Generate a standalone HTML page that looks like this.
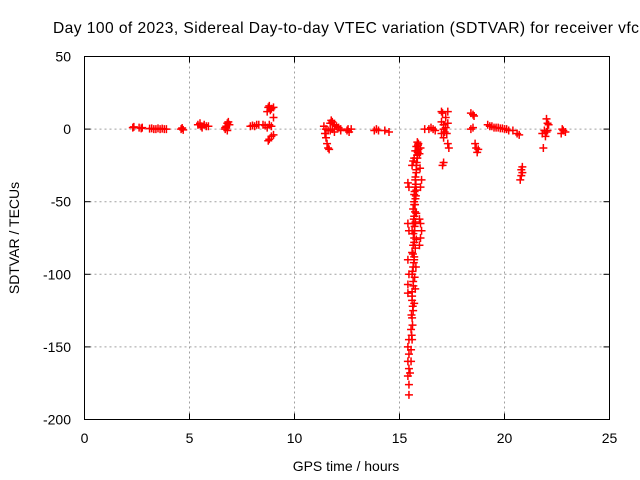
<!DOCTYPE html>
<html><head><meta charset="utf-8"><style>
body{margin:0;background:#fff}
svg{display:block;font-family:"Liberation Sans",sans-serif;font-size:14px}
</style></head><body>
<svg id="chart" width="640" height="480" viewBox="0 0 640 480">
<text x="53" y="33" fill="#000" style="font-size:15.6px" textLength="595" lengthAdjust="spacing">Day 100 of 2023, Sidereal Day-to-day VTEC variation (SDTVAR) for receiver vfch</text>
<g id="grid"></g>
<g id="ticks"></g>
<rect x="84.5" y="56.5" width="525" height="363" fill="none" stroke="#000" stroke-width="1"/>
<g id="points"></g>
<text x="346" y="471" text-anchor="middle">GPS time / hours</text>
<text transform="translate(19,238) rotate(-90)" text-anchor="middle">SDTVAR / TECUs</text>
</svg>
<script>
const xTicks=[0,5,10,15,20,25];
const yTicks=[50,0,-50,-100,-150,-200];
const times=[2.3,2.35,2.6,2.7,2.75,3.1,3.2,3.3,3.4,3.5,3.6,3.7,3.8,3.9,4.6,4.7,4.65,
5.4,5.5,5.55,5.6,5.7,5.8,5.9,6.7,6.75,6.8,6.85,6.9,6.8,6.7,7.9,8.0,8.1,8.2,8.3,8.5,8.6,
8.7,8.75,8.8,8.85,8.9,9.0,8.8,8.9,9.0,8.9,8.8,8.75,9.0,8.7,
11.4,11.5,11.45,11.6,11.55,11.6,11.65,11.7,11.75,11.8,11.9,12.0,12.1,12.2,11.5,11.7,11.8,11.9,12.2,12.5,12.6,12.7,12.55,
13.8,13.9,14.0,14.3,14.5,
15.45,15.45,15.4,15.45,15.4,15.45,15.4,15.45,15.4,15.4,15.45,15.4,15.45,15.4,15.45,15.4,
15.5,15.55,15.55,15.6,15.55,15.6,15.65,15.6,15.6,15.65,15.6,15.65,15.7,15.6,15.65,15.7,15.6,15.65,15.7,15.65,15.7,15.7,15.75,15.75,15.8,15.8,15.85,15.85,15.9,
15.7,15.75,15.72,15.78,15.7,15.75,15.8,15.72,15.76,15.8,15.74,15.78,15.8,
15.95,16.0,16.05,16.0,15.95,16.0,16.05,15.98,
15.7,15.75,15.8,15.85,15.6,15.65,15.9,15.95,16.0,
15.58,15.62,15.57,15.63,15.6,15.66,15.62,15.68,15.64,15.7,15.66,15.72,15.68,15.74,15.7,15.76,15.72,15.78,15.76,15.8,15.82,15.84,15.87,15.88,
16.2,16.5,16.6,16.7,16.4,
17.0,17.05,17.1,17.0,17.1,17.2,17.3,17.25,17.0,17.1,17.3,17.35,17.05,17.1,17.2,17.15,17.3,
18.4,18.5,18.55,18.4,18.5,18.65,18.7,18.75,18.6,
19.2,19.3,19.4,19.5,19.6,19.7,19.8,19.9,20.0,20.1,20.2,20.4,20.6,20.7,
20.75,20.8,20.85,20.8,20.85,
21.8,21.9,21.85,21.95,22.0,22.05,22.1,22.0,22.05,
22.7,22.8,22.9,22.75];
const values=[1,1.5,1,0.5,1,0.3,0.5,0,0,0.5,0,0.3,0,0,0,-0.5,0.8,
3,4,2,1,3,2,2,0,2,4,5,3,-1,1,2,2.5,2,3,3,3,2.5,
12,15,16,13,14,15,3,2,8,-5,-7,-8,-4,1,
2,0,-3,-1,-10,-13,-14,4,6,5,3,2,1,0,-6,-1,0,-2,-1,-1,-2,0,0,
-1,0,-1,-1,-2,
-183,-176,-170,-165,-160,-155,-150,-145,-113,-107,-100,-90,-70,-65,-40,-37,
-168,-160,-152,-145,-138,-130,-125,-118,-112,-105,-100,-95,-90,-85,-80,-75,-70,-65,-60,-55,-50,-45,-40,-35,-30,-25,-20,-15,-10,
-120,-110,-102,-95,-88,-82,-76,-70,-64,-58,-52,-46,-42,
-80,-75,-70,-65,-62,-40,-35,-27,
-20,-15,-12,-9,-25,-22,-14,-17,-13,
-142,-135,-128,-122,-115,-108,-98,-92,-86,-78,-72,-67,-62,-57,-52,-48,-43,-38,-33,-28,-23,-18,-16,-11,
0,1,0,-1,0,
12,11,3,5,0,8,4,-3,-3,-6,-10,-13,-25,-23,1,-2,12,
11,10,9,0,1,-13,-16,-14,-10,
3,2,2,1,1,1,0.5,0.5,0,0,-1,-1,-3,-4,
-35,-32,-30,-28,-26,
-3,-1,-13,-5,7,4,3,-2,-1,
-3,-1,-2,0];
const L=84.5,R=609.5,T=56.5,B=419.5;
function xs(v){return L+(v-0)/25*(R-L);}
function ys(v){return T+(50-v)/250*(B-T);}
const NS="http://www.w3.org/2000/svg";
const grid=document.getElementById('grid'),ticks=document.getElementById('ticks'),pts=document.getElementById('points');
function mk(tag,attrs,parent){const e=document.createElementNS(NS,tag);for(const k in attrs)e.setAttribute(k,attrs[k]);parent.appendChild(e);return e;}
xTicks.forEach(t=>{const x=xs(t);
 if(t>0&&t<25){const g=mk('line',{x1:x,x2:x,y1:T,y2:B,stroke:'#a0a0a0','stroke-dasharray':'2,3'},grid);
 
 }
 const a=mk('line',{x1:x,x2:x,y1:B,y2:B-6,stroke:'#000'},ticks);
 
 
 const b=mk('line',{x1:x,x2:x,y1:T,y2:T+6,stroke:'#000'},ticks);
 
 
 const tx=mk('text',{x:x,y:443,'text-anchor':'middle'},ticks);tx.textContent=t;
 
 
});
yTicks.forEach(t=>{const y=ys(t);
 if(t<50&&t>-200){const g=mk('line',{x1:L,x2:R,y1:y,y2:y,stroke:'#a0a0a0','stroke-dasharray':'2,3'},grid);
 
 }
 const a=mk('line',{x1:L,x2:L+6,y1:y,y2:y,stroke:'#000'},ticks);
 
 
 const b=mk('line',{x1:R,x2:R-6,y1:y,y2:y,stroke:'#000'},ticks);
 
 
 const tx=mk('text',{x:71,y:y+5,'text-anchor':'end'},ticks);tx.textContent=t;
 
 
});
times.forEach((t,i)=>{const x=xs(t),y=ys(values[i]);
 const p=mk('path',{d:`M${x-4},${y}H${x+4}M${x},${y-4}V${y+4}`,stroke:'#ff0000','stroke-width':1.5,fill:'none'},pts);
 
 
});
</script>
</body></html>
